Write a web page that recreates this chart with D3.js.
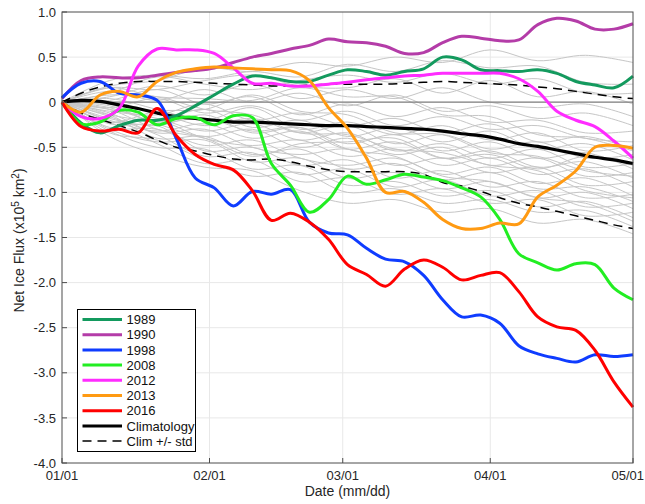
<!DOCTYPE html>
<html>
<head>
<meta charset="utf-8">
<script src="https://cdn.jsdelivr.net/npm/d3@7"></script>
<style>
  html, body { margin: 0; padding: 0; background: #fff; }
  svg { display: block; font-family: "Liberation Sans", Arial, Helvetica, sans-serif; }
</style>
</head>
<body>
<svg id="chart" width="645" height="504"></svg>
<script>
// Net ice flux (x10^5 km^2), cumulative from 1 January, sampled every 4 days
const dayGrid = d3.range(0, 121, 4);
// Background years, sampled every 10 days
const grayDays = d3.range(0, 121, 10);

const monthTicks = [0, 31, 59, 90, 120];
const monthLabels = ["01/01", "02/01", "03/01", "04/01", "05/01"];
const yTicks = [1.0, 0.5, 0, -0.5, -1.0, -1.5, -2.0, -2.5, -3.0, -3.5, -4.0];
const yTickLabels = ["1.0", "0.5", "0", "-0.5", "-1.0", "-1.5", "-2.0", "-2.5", "-3.0", "-3.5", "-4.0"];

const years = ["1989", "1990", "1998", "2008", "2012", "2013", "2016"];
const yearColors = ["#139a5e", "#b43ca8", "#0f3cff", "#22ee22", "#ff2cff", "#ff9a12", "#ff0000"];

const flux1989 = [0, -0.23, -0.34, -0.26, -0.20, -0.20, -0.15, -0.04, 0.08, 0.20, 0.29, 0.27, 0.23, 0.23, 0.30, 0.36,
  0.34, 0.30, 0.34, 0.37, 0.50, 0.47, 0.36, 0.35, 0.34, 0.36, 0.32, 0.23, 0.19, 0.16, 0.29];
const flux1990 = [0.04, 0.24, 0.28, 0.27, 0.27, 0.30, 0.33, 0.35, 0.38, 0.44, 0.50, 0.54, 0.59, 0.63, 0.70, 0.67,
  0.66, 0.62, 0.54, 0.55, 0.66, 0.73, 0.71, 0.68, 0.69, 0.86, 0.93, 0.90, 0.81, 0.81, 0.87];
const flux1998 = [0.05, 0.21, 0.23, 0.10, 0.08, 0.02, -0.40, -0.84, -0.95, -1.15, -0.99, -1.02, -0.97, -1.33, -1.45, -1.47,
  -1.62, -1.74, -1.77, -1.92, -2.19, -2.38, -2.36, -2.45, -2.70, -2.79, -2.84, -2.88, -2.80, -2.82, -2.80];
const flux2008 = [0, -0.24, -0.22, -0.09, -0.11, -0.25, -0.18, -0.17, -0.25, -0.15, -0.17, -0.68, -0.92, -1.22, -1.08, -0.82,
  -0.91, -0.86, -0.80, -0.83, -0.87, -0.95, -1.05, -1.30, -1.68, -1.78, -1.86, -1.79, -1.80, -2.06, -2.19];
const flux2012 = [0, -0.16, -0.18, -0.07, 0.40, 0.59, 0.58, 0.58, 0.54, 0.38, 0.21, 0.21, 0.18, 0.18, 0.20, 0.22,
  0.25, 0.27, 0.29, 0.30, 0.32, 0.32, 0.32, 0.32, 0.26, 0.12, -0.10, -0.20, -0.27, -0.43, -0.62];
const flux2013 = [0, -0.11, 0.08, 0.12, 0.06, 0.23, 0.33, 0.37, 0.39, 0.38, 0.37, 0.36, 0.35, 0.24, -0.06, -0.29,
  -0.62, -1.00, -0.99, -1.11, -1.30, -1.40, -1.40, -1.34, -1.35, -1.05, -0.92, -0.76, -0.50, -0.48, -0.51];
const flux2016 = [0, -0.27, -0.32, -0.30, -0.34, -0.07, -0.37, -0.58, -0.69, -0.75, -0.98, -1.31, -1.23, -1.33, -1.52, -1.80,
  -1.91, -2.04, -1.85, -1.75, -1.83, -1.97, -1.92, -1.89, -2.10, -2.38, -2.49, -2.53, -2.75, -3.10, -3.38];

const climatology = [0, 0.02, 0.01, -0.03, -0.07, -0.12, -0.16, -0.18, -0.20, -0.22, -0.22, -0.23, -0.24, -0.25, -0.26, -0.26,
  -0.27, -0.28, -0.29, -0.30, -0.32, -0.35, -0.37, -0.41, -0.46, -0.49, -0.53, -0.57, -0.61, -0.64, -0.68];
const climUpper = [0, 0.10, 0.17, 0.21, 0.23, 0.23, 0.23, 0.22, 0.21, 0.20, 0.19, 0.18, 0.18, 0.19, 0.20, 0.20,
  0.20, 0.20, 0.21, 0.22, 0.23, 0.22, 0.21, 0.20, 0.19, 0.17, 0.15, 0.12, 0.09, 0.06, 0.04];
const climLower = [0, -0.12, -0.19, -0.26, -0.33, -0.42, -0.50, -0.54, -0.59, -0.63, -0.64, -0.63, -0.66, -0.71, -0.75, -0.77,
  -0.77, -0.77, -0.77, -0.80, -0.89, -0.93, -0.99, -1.06, -1.12, -1.16, -1.21, -1.26, -1.31, -1.36, -1.40];

const otherYears = [
  [0, 0.18, 0.24, 0.38, 0.34, 0.44, 0.40, 0.50, 0.44, 0.58, 0.46, 0.52, 0.44],
  [0, 0.24, 0.30, 0.26, 0.34, 0.28, 0.42, 0.34, 0.46, 0.38, 0.40, 0.22, 0.20],
  [0, 0.10, 0.28, 0.20, 0.14, 0.24, 0.30, 0.22, 0.32, 0.20, 0.26, 0.10, 0.10],
  [0, 0.16, 0.14, 0.24, 0.30, 0.18, 0.16, 0.26, 0.10, 0.24, 0.06, 0.12, -0.02],
  [0, 0.06, 0.18, 0.08, 0.20, 0.04, 0.14, 0.04, 0.16, 0.00, -0.06, -0.02, -0.16],
  [0, 0.12, 0.02, 0.14, 0.00, 0.10, -0.04, 0.08, -0.10, -0.04, -0.18, -0.12, -0.26],
  [0, 0.02, 0.14, -0.02, 0.06, -0.14, -0.02, -0.16, -0.06, -0.22, -0.20, -0.34, -0.32],
  [0, -0.06, 0.04, -0.12, -0.04, -0.20, -0.10, -0.26, -0.16, -0.30, -0.26, -0.40, -0.44],
  [0, -0.10, -0.14, -0.02, -0.20, -0.12, -0.26, -0.18, -0.34, -0.24, -0.44, -0.38, -0.52],
  [0, 0.04, -0.08, -0.20, -0.06, -0.30, -0.22, -0.36, -0.26, -0.42, -0.34, -0.54, -0.48],
  [0, -0.14, -0.20, -0.08, -0.28, -0.20, -0.38, -0.28, -0.44, -0.32, -0.52, -0.46, -0.64],
  [0, -0.02, -0.12, -0.26, -0.18, -0.34, -0.26, -0.46, -0.36, -0.52, -0.44, -0.62, -0.58],
  [0, -0.18, -0.26, -0.14, -0.34, -0.28, -0.46, -0.36, -0.54, -0.44, -0.62, -0.56, -0.74],
  [0, -0.08, -0.18, -0.32, -0.24, -0.42, -0.34, -0.54, -0.46, -0.62, -0.52, -0.72, -0.68],
  [0, -0.20, -0.32, -0.24, -0.40, -0.32, -0.52, -0.44, -0.62, -0.54, -0.72, -0.66, -0.84],
  [0, -0.06, -0.24, -0.38, -0.30, -0.50, -0.40, -0.58, -0.50, -0.70, -0.62, -0.82, -0.78],
  [0, -0.22, -0.20, -0.40, -0.48, -0.42, -0.60, -0.52, -0.70, -0.62, -0.80, -0.74, -0.94],
  [0, -0.12, -0.34, -0.30, -0.50, -0.58, -0.52, -0.70, -0.62, -0.78, -0.72, -0.92, -0.88],
  [0, -0.28, -0.30, -0.48, -0.42, -0.62, -0.70, -0.62, -0.80, -0.72, -0.90, -0.84, -1.04],
  [0, -0.14, -0.40, -0.38, -0.58, -0.52, -0.74, -0.68, -0.86, -0.78, -0.96, -0.94, -1.10],
  [0, -0.24, -0.26, -0.54, -0.50, -0.70, -0.64, -0.84, -0.76, -0.94, -0.88, -1.06, -1.02],
  [0, -0.30, -0.44, -0.42, -0.66, -0.62, -0.84, -0.78, -0.96, -0.88, -1.06, -1.00, -1.18],
  [0, -0.16, -0.36, -0.60, -0.56, -0.80, -0.74, -0.94, -0.86, -1.04, -0.98, -1.16, -1.12],
  [0, -0.32, -0.50, -0.52, -0.74, -0.70, -0.92, -0.88, -1.04, -0.98, -1.16, -1.10, -1.28],
  [0, -0.22, -0.46, -0.68, -0.64, -0.88, -0.84, -1.02, -0.96, -1.12, -1.08, -1.26, -1.22],
  [0, -0.34, -0.42, -0.64, -0.82, -0.78, -1.00, -0.96, -1.12, -1.08, -1.22, -1.20, -1.38],
  [0, -0.38, -0.58, -0.72, -0.76, -0.98, -1.12, -1.08, -1.22, -1.18, -1.34, -1.30, -1.46],
  [0, -0.04, -0.22, -0.18, -0.32, -0.28, -0.52, -0.60, -0.82, -0.88, -1.06, -1.12, -1.32],
  [0, 0.08, 0.06, -0.08, -0.14, -0.34, -0.36, -0.52, -0.56, -0.70, -0.76, -0.98, -1.06],
  [0, -0.22, -0.10, -0.08, 0.08, -0.10, -0.14, -0.34, -0.36, -0.56, -0.60, -0.76, -0.82],
  [0, 0.16, 0.06, 0.04, 0.02, 0.16, 0.06, 0.06, -0.14, -0.16, -0.36, -0.40, -0.54],
  [0, -0.08, -0.30, -0.40, -0.60, -0.46, -0.44, -0.40, -0.62, -0.58, -0.74, -0.60, -0.70]
];

const yearSeries = [flux1989, flux1990, flux1998, flux2008, flux2012, flux2013, flux2016];

const svg = d3.select("#chart");
const plot = { left: 62, right: 633, top: 12, bottom: 463 };

const x = d3.scaleLinear().domain([0, 120]).range([plot.left, plot.right]);
const y = d3.scaleLinear().domain([-4, 1]).range([plot.bottom, plot.top]);

const textColor = "#262626";
const axisColor = "#4d4d4d";

// Grid
const grid = svg.append("g");
grid.selectAll("line.gx").data(monthTicks.slice(1, -1)).join("line")
  .attr("x1", d => x(d)).attr("x2", d => x(d))
  .attr("y1", plot.top).attr("y2", plot.bottom)
  .attr("stroke", "#e8e8e8").attr("stroke-width", 1);
grid.selectAll("line.gy").data(yTicks.slice(1, -1)).join("line")
  .attr("x1", plot.left).attr("x2", plot.right)
  .attr("y1", d => y(d)).attr("y2", d => y(d))
  .attr("stroke", "#e8e8e8").attr("stroke-width", 1);

const curve = d3.curveCatmullRom.alpha(0.5);
const lineGrid = d3.line().x((d, i) => x(dayGrid[i])).y(d => y(d)).curve(curve);
const lineGray = d3.line().x((d, i) => x(grayDays[i])).y(d => y(d)).curve(curve);

// Other years
svg.append("g").selectAll("path").data(otherYears).join("path")
  .attr("d", lineGray)
  .attr("fill", "none").attr("stroke", "#c6c6c6").attr("stroke-width", 1);

// Zero line
svg.append("line")
  .attr("x1", plot.left).attr("x2", plot.right)
  .attr("y1", y(0)).attr("y2", y(0))
  .attr("stroke", "#808080").attr("stroke-width", 1.2);

// Climatology +/- one standard deviation
svg.append("g").selectAll("path").data([climUpper, climLower]).join("path")
  .attr("d", lineGrid)
  .attr("fill", "none").attr("stroke", "#000").attr("stroke-width", 1.5)
  .attr("stroke-dasharray", "9,6");

// Climatology
svg.append("path").attr("d", lineGrid(climatology))
  .attr("fill", "none").attr("stroke", "#000").attr("stroke-width", 3.2);

// Highlighted years
svg.append("g").selectAll("path").data(yearSeries).join("path")
  .attr("d", lineGrid)
  .attr("fill", "none")
  .attr("stroke", (d, i) => yearColors[i])
  .attr("stroke-width", 3)
  .attr("stroke-linejoin", "round");

// Frame
svg.append("rect")
  .attr("x", plot.left).attr("y", plot.top)
  .attr("width", plot.right - plot.left).attr("height", plot.bottom - plot.top)
  .attr("fill", "none").attr("stroke", axisColor).attr("stroke-width", 1);

// Ticks (inward)
svg.append("g").selectAll("line").data(monthTicks).join("line")
  .attr("x1", d => x(d)).attr("x2", d => x(d))
  .attr("y1", plot.bottom).attr("y2", plot.bottom - 5)
  .attr("stroke", axisColor);
svg.append("g").selectAll("line").data(yTicks).join("line")
  .attr("x1", plot.left).attr("x2", plot.left + 5)
  .attr("y1", d => y(d)).attr("y2", d => y(d))
  .attr("stroke", axisColor);

// Tick labels; the last one is kept inside the page edge
svg.append("g").selectAll("text").data(monthTicks).join("text")
  .attr("x", (d, i) => i === monthTicks.length - 1 ? 644 : x(d)).attr("y", 480)
  .attr("text-anchor", (d, i) => i === monthTicks.length - 1 ? "end" : "middle")
  .attr("font-size", 13).attr("fill", textColor)
  .text((d, i) => monthLabels[i]);
svg.append("g").selectAll("text").data(yTicks).join("text")
  .attr("x", 56).attr("y", d => y(d) + 4.6)
  .attr("text-anchor", "end")
  .attr("font-size", 13).attr("fill", textColor)
  .text((d, i) => yTickLabels[i]);

// Axis titles
svg.append("text")
  .attr("x", (plot.left + plot.right) / 2).attr("y", 496)
  .attr("text-anchor", "middle").attr("font-size", 14).attr("fill", textColor)
  .text("Date (mm/dd)");

const yTitle = svg.append("text")
  .attr("transform", `translate(24,${(plot.top + plot.bottom) / 2 + 3}) rotate(-90)`)
  .attr("text-anchor", "middle").attr("font-size", 14).attr("fill", textColor);
yTitle.append("tspan").text("Net Ice Flux (x10");
yTitle.append("tspan").attr("font-size", 10).attr("dy", -5).text("5");
yTitle.append("tspan").attr("dy", 5).text(" km");
yTitle.append("tspan").attr("font-size", 10).attr("dy", -5).text("2");
yTitle.append("tspan").attr("dy", 5).text(")");

// Legend
const legendItems = years.map((yr, i) => ({ label: yr, color: yearColors[i], width: 3, dash: null }))
  .concat([
    { label: "Climatology", color: "#000", width: 3, dash: null },
    { label: "Clim +/- std", color: "#000", width: 1.5, dash: "9,6" }
  ]);
const legend = svg.append("g");
legend.append("rect")
  .attr("x", 77.5).attr("y", 309.5).attr("width", 118).attr("height", 142)
  .attr("fill", "#fff").attr("stroke", "#000").attr("stroke-width", 1);
const rows = legend.selectAll("g.row").data(legendItems).join("g")
  .attr("transform", (d, i) => `translate(0,${319.5 + i * 15.2})`);
rows.append("line")
  .attr("x1", 82.5).attr("x2", 122).attr("y1", 0).attr("y2", 0)
  .attr("stroke", d => d.color).attr("stroke-width", d => d.width)
  .attr("stroke-dasharray", d => d.dash);
rows.append("text")
  .attr("x", 126.5).attr("y", 4.6)
  .attr("font-size", 13).attr("fill", "#111")
  .text(d => d.label);
</script>
</body>
</html>
